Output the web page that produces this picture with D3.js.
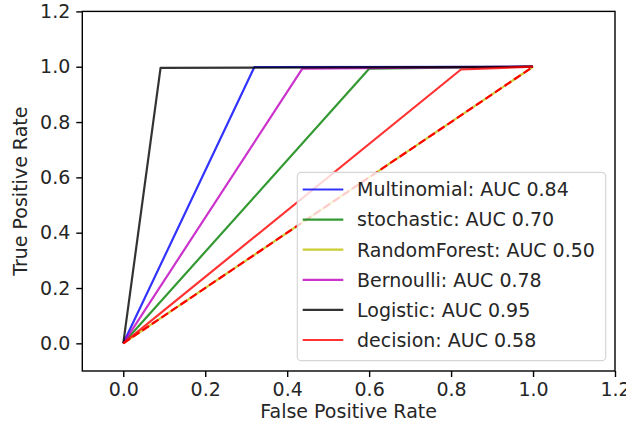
<!DOCTYPE html>
<html>
<head>
<meta charset="utf-8">
<script src="https://cdn.jsdelivr.net/npm/d3@7"></script>
<style>
  html, body { margin: 0; padding: 0; background: #fff; }
  svg { display: block; }
  text { font-family: "DejaVu Sans", sans-serif; }
</style>
</head>
<body>
<svg id="chart" width="626" height="428"></svg>
<script>
// ---- data ----
const seriesNames = ["Multinomial", "stochastic", "RandomForest", "Bernoulli", "Logistic", "decision"];
const seriesAUC = [0.84, 0.70, 0.50, 0.78, 0.95, 0.58];
const seriesColors = ["#0000ff", "#008000", "#bfbf00", "#bf00bf", "#000000", "#ff0000"];
const fprMultinomial = [0, 0.32, 1];
const tprMultinomial = [0, 0.999, 1];
const fprStochastic = [0, 0.60, 1];
const tprStochastic = [0, 0.993, 1];
const fprRandomForest = [0, 1];
const tprRandomForest = [0, 1];
const fprBernoulli = [0, 0.437, 1];
const tprBernoulli = [0, 0.993, 1];
const fprLogistic = [0, 0.091, 1];
const tprLogistic = [0, 0.996, 1];
const fprDecision = [0, 0.824, 1];
const tprDecision = [0, 0.99, 1];
const chanceX = [0, 1];
const chanceY = [0, 1];
const xTicks = [0, 0.2, 0.4, 0.6, 0.8, 1.0, 1.2];
const yTicks = [0, 0.2, 0.4, 0.6, 0.8, 1.0, 1.2];
const xLabel = "False Positive Rate";
const yLabel = "True Positive Rate";

const fprs = [fprMultinomial, fprStochastic, fprRandomForest, fprBernoulli, fprLogistic, fprDecision];
const tprs = [tprMultinomial, tprStochastic, tprRandomForest, tprBernoulli, tprLogistic, tprDecision];

// ---- layout ----
const L = 82.3, R = 615, T = 11.4, B = 371;
const FS = 19;
const svg = d3.select("#chart");
const x = d3.scaleLinear().domain([-0.1, 1.2]).range([L, R]);
const y = d3.scaleLinear().domain([-0.1, 1.2]).range([B, T]);

const plot = svg.append("g");
plot.append("clipPath").attr("id", "clip").append("rect")
  .attr("x", L).attr("y", T).attr("width", R - L).attr("height", B - T);
const lines = plot.append("g").attr("clip-path", "url(#clip)");

const line = d3.line().x(d => x(d[0])).y(d => y(d[1]));

seriesNames.forEach((name, i) => {
  const pts = fprs[i].map((f, j) => [f, tprs[i][j]]);
  lines.append("path")
    .attr("d", line(pts))
    .attr("fill", "none")
    .attr("stroke", seriesColors[i])
    .attr("stroke-opacity", 0.8)
    .attr("stroke-width", 2.2)
    .attr("stroke-linejoin", "round");
});
// chance line r--
lines.append("path")
  .attr("d", line(chanceX.map((v, j) => [v, chanceY[j]])))
  .attr("fill", "none")
  .attr("stroke", "#ff0000")
  .attr("stroke-width", 2.2)
  .attr("stroke-dasharray", "8,3.5");

// ---- axes ----
const fmt = d3.format(".1f");
const xAxis = svg.append("g").attr("transform", `translate(0,${B})`)
  .call(d3.axisBottom(x).tickValues(xTicks).tickFormat(fmt).tickSize(6).tickPadding(6));
const yAxis = svg.append("g").attr("transform", `translate(${L},0)`)
  .call(d3.axisLeft(y).tickValues(yTicks).tickFormat(fmt).tickSize(6).tickPadding(6));
[xAxis, yAxis].forEach(a => {
  a.select(".domain").remove();
  a.selectAll(".tick line").attr("stroke", "#000").attr("stroke-width", 1.4);
  a.selectAll(".tick text").attr("font-size", FS).attr("fill", "#262626")
    .attr("font-family", "DejaVu Sans, sans-serif");
});

// spines
svg.append("rect").attr("x", L).attr("y", T).attr("width", R - L).attr("height", B - T)
  .attr("fill", "none").attr("stroke", "#000").attr("stroke-width", 1.4);

// axis labels
svg.append("text").attr("x", (L + R) / 2).attr("y", 418)
  .attr("text-anchor", "middle").attr("font-size", FS).attr("fill", "#262626").text(xLabel);
svg.append("text").attr("transform", `translate(27,${(T + B) / 2}) rotate(-90)`)
  .attr("text-anchor", "middle").attr("font-size", FS).attr("fill", "#262626").text(yLabel);

// ---- legend ----
const lg = svg.append("g");
lg.append("rect").attr("x", 297.3).attr("y", 172.3).attr("width", 605.7 - 297.3).attr("height", 360.7 - 172.3)
  .attr("rx", 4).attr("fill", "#fff").attr("fill-opacity", 0.8)
  .attr("stroke", "#d6d6d6").attr("stroke-width", 1.2);
seriesNames.forEach((name, i) => {
  const yy = 189.5 + i * 30.1;
  lg.append("line").attr("x1", 302.7).attr("x2", 343.3).attr("y1", yy).attr("y2", yy)
    .attr("stroke", seriesColors[i]).attr("stroke-opacity", 0.8).attr("stroke-width", 2.2);
  lg.append("text").attr("x", 357).attr("y", yy).attr("dy", "0.36em")
    .attr("font-size", FS).attr("fill", "#262626")
    .text(`${name}: AUC ${seriesAUC[i].toFixed(2)}`);
});
</script>
</body>
</html>
